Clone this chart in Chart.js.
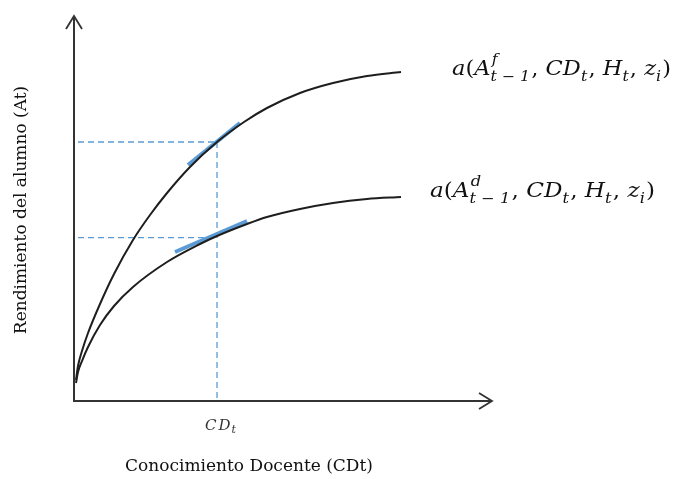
<!DOCTYPE html>
<html>
<head>
<meta charset="utf-8">
<script src="https://cdn.jsdelivr.net/npm/chart.js@4.4.1/dist/chart.umd.min.js"></script>
<style>
  html, body { margin: 0; padding: 0; background: #fff; }
  #wrap { width: 677px; height: 479px; }
</style>
</head>
<body>
<div id="wrap"><canvas id="chart" width="677" height="479"></canvas></div>
<script>
// curve points (x = CDt, y = At, both 0..100)
const upperX = [0.48, 0.96, 1.92, 3.37, 6.25, 9.62, 14.18, 18.27, 22.36, 27.88, 34.38, 40.87, 46.39, 54.33, 62.26, 70.43, 78.61];
const upperY = [5.48, 9.14, 13.05, 17.75, 25.33, 33.16, 42.04, 48.56, 54.31, 61.10, 67.62, 72.85, 76.50, 80.42, 83.03, 84.86, 85.90];
const lowerX = [0.48, 0.96, 1.92, 3.37, 6.25, 9.62, 14.18, 22.36, 30.29, 34.38, 41.59, 46.39, 54.33, 62.26, 70.43, 78.61];
const lowerY = [4.70, 7.57, 10.44, 14.10, 19.84, 24.80, 29.77, 36.29, 40.99, 43.08, 46.21, 48.04, 50.13, 51.70, 52.74, 53.26];

// tangent segments at CDt
const tangentUpperX = [27.40, 39.90];
const tangentUpperY = [61.62, 72.58];
const tangentLowerX = [24.28, 41.59];
const tangentLowerY = [38.90, 47.00];

// reference level
const cdT = 34.38;
const levelUpper = 67.62;
const levelLower = 42.64;
const dashStart = 0.96;

const tickLabels = [{ value: cdT, main: 'CD', sub: 't' }];
const xTitle = 'Conocimiento Docente (CDt)';
const yTitle = 'Rendimiento del alumno (At)';
const upperLabel = 'f';
const lowerLabel = 'd';

const pts = (xs, ys) => xs.map((x, i) => ({ x: x, y: ys[i] }));

const blue = '#5b9bd5';
const ink = '#1e1e1e';

// a(A^s_{t-1}, CD_t, H_t, z_i), squeezed to the given width
function drawMath(ctx, x, y, supText, width) {
  const big = 'italic 20px "DejaVu Serif"';
  const bigUp = '20px "DejaVu Serif"';
  const small = 'italic 14px "DejaVu Serif"';
  const parts = [
    ['a', big], ['(', bigUp], ['A', big], { sup: supText, sub: 't \u2212 1' },
    [', ', bigUp], ['CD', big], { sub: 't' }, [', ', bigUp], ['H', big], { sub: 't' },
    [', ', bigUp], ['z', big], { sub: 'i' }, [')', bigUp]
  ];
  const run = (draw) => {
    let cx = 0;
    parts.forEach(p => {
      if (Array.isArray(p)) {
        ctx.font = p[1];
        if (draw) ctx.fillText(p[0], cx, 0);
        cx += ctx.measureText(p[0]).width;
      } else {
        ctx.font = small;
        let w = 0;
        if (p.sup) {
          if (draw) ctx.fillText(p.sup, cx + 1, -11);
          w = ctx.measureText(p.sup).width + 1;
        }
        if (p.sub) {
          if (draw) ctx.fillText(p.sub, cx, 6);
          w = Math.max(w, ctx.measureText(p.sub).width);
        }
        cx += w + 1;
      }
    });
    return cx;
  };
  ctx.save();
  ctx.textBaseline = 'alphabetic';
  ctx.textAlign = 'left';
  ctx.fillStyle = '#111';
  const total = run(false);
  ctx.translate(x, y);
  ctx.scale(width / total, 1);
  run(true);
  ctx.restore();
}

const diagram = {
  id: 'diagram',
  afterDraw(chart) {
    const ctx = chart.ctx;
    const xs = chart.scales.x, ys = chart.scales.y;
    const x0 = xs.getPixelForValue(0), y0 = ys.getPixelForValue(0);
    const yTop = ys.getPixelForValue(100) - 2;
    const xEnd = xs.getPixelForValue(100) + 2;
    ctx.save();
    // axes with open arrow heads
    ctx.strokeStyle = '#333';
    ctx.lineWidth = 2;
    ctx.beginPath();
    ctx.moveTo(x0, yTop);
    ctx.lineTo(x0, y0);
    ctx.lineTo(xEnd, y0);
    ctx.stroke();
    ctx.lineWidth = 1.8;
    ctx.beginPath();
    ctx.moveTo(x0 - 8, yTop + 13);
    ctx.lineTo(x0, yTop);
    ctx.lineTo(x0 + 8, yTop + 13);
    ctx.moveTo(xEnd - 13, y0 - 8);
    ctx.lineTo(xEnd, y0);
    ctx.lineTo(xEnd - 13, y0 + 8);
    ctx.stroke();

    // tick label
    tickLabels.forEach(t => {
      const px = xs.getPixelForValue(t.value);
      ctx.fillStyle = '#333';
      ctx.textAlign = 'left';
      ctx.textBaseline = 'alphabetic';
      ctx.font = 'italic 15px "DejaVu Serif"';
      let sx = px - 12;
      t.main.split('').forEach(ch => {
        ctx.fillText(ch, sx, y0 + 29);
        sx += ctx.measureText(ch).width + 2;
      });
      ctx.font = 'italic 11px "DejaVu Serif"';
      ctx.fillText(t.sub, sx - 1, y0 + 32);
    });

    // axis titles
    ctx.fillStyle = '#111';
    ctx.font = '17px "DejaVu Serif"';
    ctx.textAlign = 'center';
    ctx.textBaseline = 'middle';
    ctx.fillText(xTitle, 249, 467, 258);
    ctx.save();
    ctx.translate(22, 210);
    ctx.rotate(-Math.PI / 2);
    ctx.fillText(yTitle, 0, 0, 255);
    ctx.restore();

    // curve labels
    const ux = xs.getPixelForValue(upperX[upperX.length - 1]);
    const uy = ys.getPixelForValue(upperY[upperY.length - 1]);
    drawMath(ctx, ux + 51, uy + 3, upperLabel, 219);
    const lx = xs.getPixelForValue(lowerX[lowerX.length - 1]);
    const ly = ys.getPixelForValue(lowerY[lowerY.length - 1]);
    drawMath(ctx, lx + 29, ly, lowerLabel, 225);
    ctx.restore();
  }
};

new Chart(document.getElementById('chart'), {
  type: 'line',
  data: {
    datasets: [
      { data: pts(upperX, upperY), borderColor: ink, borderWidth: 2, cubicInterpolationMode: 'monotone' },
      { data: pts(lowerX, lowerY), borderColor: ink, borderWidth: 2, cubicInterpolationMode: 'monotone' },
      { data: pts(tangentUpperX, tangentUpperY), borderColor: blue, borderWidth: 4, borderCapStyle: 'butt' },
      { data: pts(tangentLowerX, tangentLowerY), borderColor: blue, borderWidth: 4, borderCapStyle: 'butt' },
      { data: pts([dashStart, cdT], [levelUpper, levelUpper]), borderColor: blue, borderWidth: 1.3, borderDash: [6, 4] },
      { data: pts([dashStart, cdT], [levelLower, levelLower]), borderColor: blue, borderWidth: 1.3, borderDash: [6, 4] },
      { data: pts([cdT, cdT], [levelUpper, 0]), borderColor: blue, borderWidth: 1.3, borderDash: [6, 4] }
    ]
  },
  options: {
    responsive: false,
    animation: false,
    layout: { padding: { left: 74, right: 187, top: 18, bottom: 78 } },
    elements: { point: { radius: 0 }, line: { fill: false } },
    scales: {
      x: { type: 'linear', min: 0, max: 100, display: false },
      y: { type: 'linear', min: 0, max: 100, display: false }
    },
    plugins: { legend: { display: false }, tooltip: { enabled: false } }
  },
  plugins: [diagram]
});
</script>
</body>
</html>
